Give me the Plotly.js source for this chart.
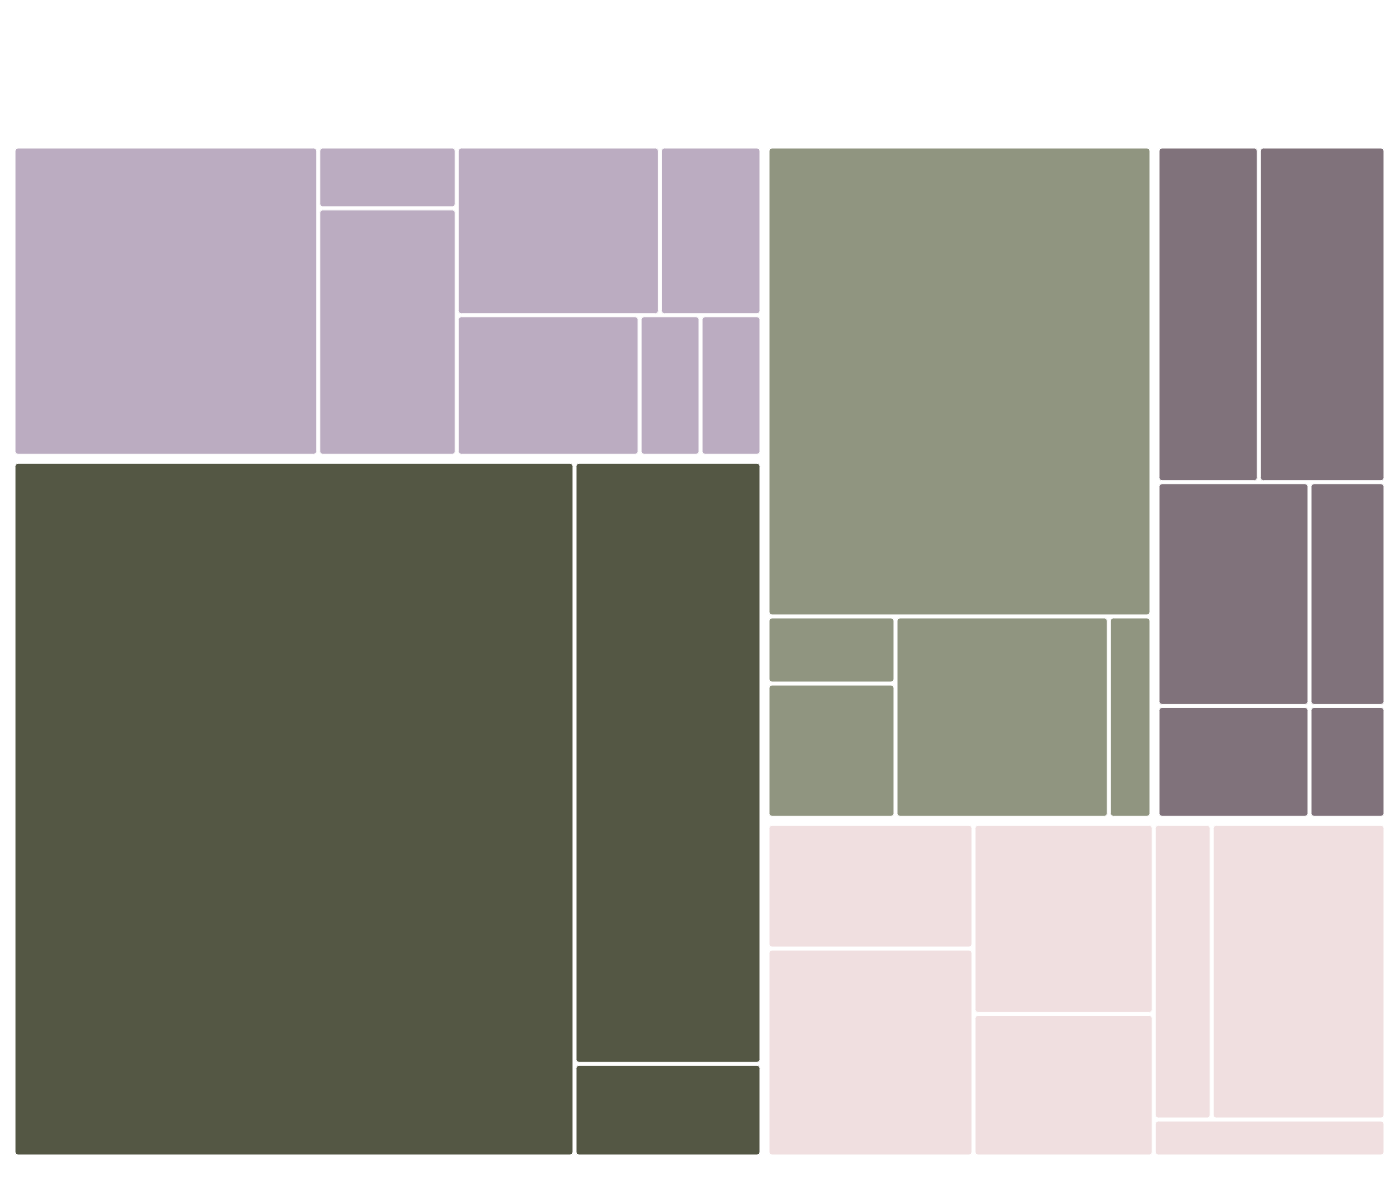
<!DOCTYPE html>
<html>
<head>
<meta charset="utf-8">
<script src="https://cdn.plot.ly/plotly-3.0.1.min.js"></script>
<style>html,body{margin:0;padding:0;background:#fff;}#chart{width:1400px;height:1190px;}</style>
</head>
<body>
<div id="chart"></div>
<script>
// Groups (top level)
var groups = ["Purple", "Olive", "Sage", "Mauve", "Blush"];
// Leaves per group, in drawing order
var purpleLeaves = ["P-1", "P-2", "P-3", "P-4", "P-5", "P-6", "P-7", "P-8"];
var purpleValues = [11, 1, 4, 4, 2, 3, 1, 1];
var oliveLeaves = ["O-1", "O-2", "O-3"];
var oliveValues = [45, 13, 2];
var sageLeaves = ["S-1", "S-2", "S-3", "S-4", "S-5"];
var sageValues = [21, 1, 2, 5, 1];
var mauveLeaves = ["M-1", "M-2", "M-3", "M-4", "M-5", "M-6"];
var mauveValues = [4, 5, 4, 2, 2, 1];
var blushLeaves = ["B-1", "B-2", "B-3", "B-4", "B-5", "B-6", "B-7"];
var blushValues = [3, 5, 4, 3, 2, 6, 1];

var groupColors = {
  "Purple": "#BBACC1",
  "Olive": "#545744",
  "Sage": "#909580",
  "Mauve": "#80727B",
  "Blush": "#F0DFE0"
};

var ids = [], labels = [], parents = [], values = [], colors = [];
var leafSets = [
  [purpleLeaves, purpleValues],
  [oliveLeaves, oliveValues],
  [sageLeaves, sageValues],
  [mauveLeaves, mauveValues],
  [blushLeaves, blushValues]
];
groups.forEach(function (g, gi) {
  var leaves = leafSets[gi][0], vals = leafSets[gi][1];
  var total = vals.reduce(function (a, b) { return a + b; }, 0);
  ids.push(g); labels.push(g); parents.push(""); values.push(total); colors.push("rgba(255,255,255,0)");
  leaves.forEach(function (l, li) {
    ids.push(l); labels.push(l); parents.push(g); values.push(vals[li]); colors.push(groupColors[g]);
  });
});

var trace = {
  type: "treemap",
  ids: ids,
  labels: labels,
  parents: parents,
  values: values,
  branchvalues: "total",
  sort: false,
  texttemplate: " ",
  textfont: { color: "rgba(0,0,0,0)", size: 12 },
  tiling: { packing: "squarify", squarifyratio: 1.618, pad: 3 },
  marker: {
    colors: colors,
    line: { color: "#ffffff", width: 1 },
    pad: { t: 3, l: 3, r: 3, b: 3 },
    cornerradius: 6
  },
  pathbar: { visible: false },
  hoverinfo: "label+value"
};

var layout = {
  width: 1400,
  height: 1190,
  margin: { l: 9, r: 10, t: 142, b: 29 },
  paper_bgcolor: "#ffffff",
  showlegend: false
};

Plotly.newPlot("chart", [trace], layout, { displayModeBar: false });
</script>
</body>
</html>
